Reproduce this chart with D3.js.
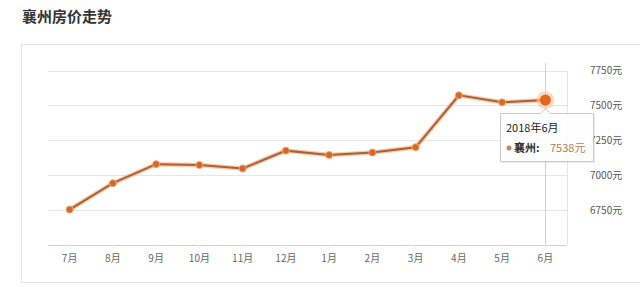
<!DOCTYPE html>
<html>
<head>
<meta charset="utf-8">
<script src="https://cdn.jsdelivr.net/npm/d3@7"></script>
<style>
  body { margin: 0; background: #fff; }
  svg { display: block; font-family: "Noto Sans CJK SC", "Noto Sans", sans-serif; }
</style>
</head>
<body>
<div class="container"></div>
<script>
const months = ["7月", "8月", "9月", "10月", "11月", "12月", "1月", "2月", "3月", "4月", "5月", "6月"]
const prices = [6754, 6943, 7079, 7073, 7048, 7176, 7145, 7162, 7200, 7572, 7522, 7538]
const yTicks = [6750, 7000, 7250, 7500, 7750]
const title = "襄州房价走势"
const seriesName = "襄州"
const tipTitle = "2018年6月"
const tipIndex = 11

const w = 640
const h = 287
const plotLeft = 48
const plotRight = 567
const plotTop = 70.5
const plotBottom = 245

const svg = d3.select(".container")
              .append("svg")
              .attr("width", w)
              .attr("height", h)

// title and card
svg.append("text")
   .attr("x", 22)
   .attr("y", 22)
   .attr("font-size", 15)
   .attr("font-weight", "bold")
   .attr("fill", "#333")
   .text(title)

svg.append("rect")
   .attr("x", 21.5)
   .attr("y", 44.5)
   .attr("width", 660)
   .attr("height", 238)
   .attr("fill", "#fff")
   .attr("stroke", "#e4e4e4")

const xScale = d3.scaleBand()
                 .domain(months)
                 .range([plotLeft, plotRight])
const yScale = d3.scaleLinear()
                 .domain([6500, 7750])
                 .range([plotBottom, plotTop])
const cx = (m) => xScale(m) + xScale.bandwidth() / 2

// gridlines
svg.selectAll(".grid")
   .data(yTicks)
   .enter()
   .append("line")
   .attr("x1", plotLeft)
   .attr("x2", plotRight)
   .attr("y1", (d) => Math.round(yScale(d)) + 0.5)
   .attr("y2", (d) => Math.round(yScale(d)) + 0.5)
   .attr("stroke", "#e6e6e6")

svg.append("line")
   .attr("x1", plotRight + 0.5)
   .attr("x2", plotRight + 0.5)
   .attr("y1", yScale(7750))
   .attr("y2", plotBottom)
   .attr("stroke", "#e6e6e6")

// y axis on the right
const yAxis = d3.axisRight(yScale)
                .tickValues(yTicks)
                .tickSize(0)
                .tickPadding(0)
                .tickFormat((d) => d + "元")
const gy = svg.append("g")
              .attr("transform", `translate(590, 0)`)
              .call(yAxis)
gy.select(".domain").remove()
gy.selectAll("text")
  .attr("font-size", 10)
  .attr("fill", "#555")
  .attr("font-family", "'Noto Sans CJK SC', sans-serif")

// x axis
const xAxis = d3.axisBottom(xScale)
                .tickSize(4)
                .tickPadding(6)
const gx = svg.append("g")
              .attr("transform", `translate(0, ${plotBottom})`)
              .call(xAxis)
gx.select(".domain")
  .attr("stroke", "#d0d0d0")
  .attr("d", `M${plotLeft},0.5H${plotRight}`)
gx.selectAll(".tick line").attr("stroke", "#eaeaea")
gx.selectAll("text")
  .attr("font-size", 10)
  .attr("fill", "#666")
  .attr("font-family", "'Noto Sans CJK SC', sans-serif")

// crosshair
svg.append("line")
   .attr("x1", Math.round(cx(months[tipIndex])) + 0.5)
   .attr("x2", Math.round(cx(months[tipIndex])) + 0.5)
   .attr("y1", 63)
   .attr("y2", plotBottom)
   .attr("stroke", "#cfcfcf")

// line
const line = d3.line()
               .x((d, i) => cx(months[i]))
               .y((d) => yScale(d))

svg.append("path")
   .datum(prices)
   .attr("d", line)
   .attr("fill", "none")
   .attr("stroke", "#f6b27a")
   .attr("stroke-opacity", 0.7)
   .attr("stroke-width", 4.5)

svg.append("path")
   .datum(prices)
   .attr("d", line)
   .attr("fill", "none")
   .attr("stroke", "#a8613d")
   .attr("stroke-width", 2)

svg.selectAll(".pt")
   .data(prices)
   .enter()
   .append("circle")
   .attr("cx", (d, i) => cx(months[i]))
   .attr("cy", (d) => yScale(d))
   .attr("r", 3.5)
   .attr("fill", "#d4682c")
   .attr("stroke", "#f3a46a")
   .attr("stroke-width", 1)

// highlighted point
const hx = cx(months[tipIndex])
const hy = yScale(prices[tipIndex])
svg.append("circle")
   .attr("cx", hx)
   .attr("cy", hy)
   .attr("r", 9)
   .attr("fill", "#f8c59c")
   .attr("opacity", 0.6)
svg.append("circle")
   .attr("cx", hx)
   .attr("cy", hy)
   .attr("r", 5.5)
   .attr("fill", "#e2661c")

// tooltip
const tx = 500.5
const ty = 113.5
const tw = 93
const th = 48
const ax = Math.round(hx) + 0.5

svg.append("path")
   .attr("d", `M${tx},${ty}H${ax - 5}L${ax},${ty - 5}L${ax + 5},${ty}H${tx + tw}V${ty + th}H${tx}Z`)
   .attr("fill", "#000")
   .attr("opacity", 0.08)
   .attr("transform", "translate(1.5, 1.5)")

svg.append("path")
   .attr("d", `M${tx},${ty}H${ax - 5}L${ax},${ty - 5}L${ax + 5},${ty}H${tx + tw}V${ty + th}H${tx}Z`)
   .attr("fill", "#fff")
   .attr("fill-opacity", 0.93)
   .attr("stroke", "#c9c9c9")

svg.append("text")
   .attr("x", 506)
   .attr("y", 132)
   .attr("font-size", 11)
   .attr("fill", "#222")
   .text(tipTitle)

svg.append("circle")
   .attr("cx", 509)
   .attr("cy", 148)
   .attr("r", 2.5)
   .attr("fill", "#b08a70")

svg.append("text")
   .attr("x", 514)
   .attr("y", 152)
   .attr("font-size", 11)
   .attr("font-weight", "bold")
   .attr("fill", "#333")
   .text(seriesName + ":")

svg.append("text")
   .attr("x", 550)
   .attr("y", 152)
   .attr("font-size", 11)
   .attr("fill", "#b5804f")
   .text(prices[tipIndex] + "元")
</script>
</body>
</html>
